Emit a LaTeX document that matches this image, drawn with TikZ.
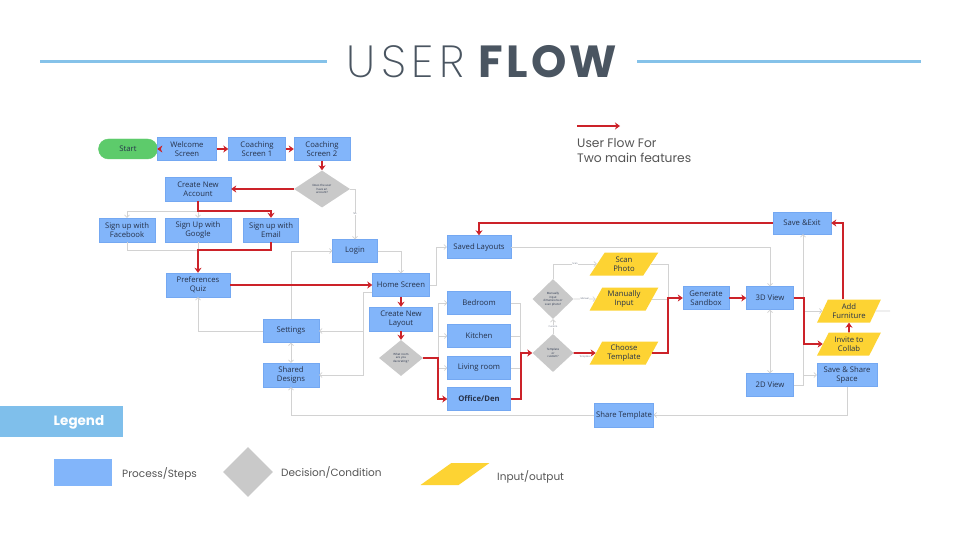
\documentclass[tikz,border=0pt]{standalone}
\usepackage{fontspec}
\setmainfont{Open Sans}
\newfontfamily\pop{Poppins}
\IfFontExistsTF{Poppins ExtraLight}{\newfontfamily\poplight{Poppins ExtraLight}[LetterSpace=12]}{%
 \IfFontExistsTF{Poppins Light}{\newfontfamily\poplight{Poppins Light}[LetterSpace=12]}{\newfontfamily\poplight{Poppins}[LetterSpace=12]}}
\newfontfamily\popbold{Poppins}[LetterSpace=7]
\usetikzlibrary{shapes.geometric,arrows.meta}
\definecolor{boxblue}{HTML}{82B5FA}
\definecolor{boxedge}{HTML}{74A8F2}
\definecolor{ink}{HTML}{26324A}
\definecolor{flowred}{HTML}{CC2229}
\definecolor{linegray}{HTML}{D2D2D2}
\definecolor{decgray}{HTML}{C9C9C9}
\definecolor{ioyellow}{HTML}{FDD333}
\definecolor{startgreen}{HTML}{5DCB6B}
\definecolor{titleblue}{HTML}{85C2E9}
\definecolor{titleink}{HTML}{4A5561}
\definecolor{legendblue}{HTML}{7FBFEB}
\definecolor{captionink}{HTML}{555555}
\begin{document}
\begin{tikzpicture}[x=1pt,y=-1pt,
 proc/.style={rectangle,fill=boxblue,draw=boxedge,line width=0.4pt,inner sep=0pt,minimum height=23pt,align=center,text=ink,font=\fontsize{7.7}{8.9}\selectfont},
 dec/.style={diamond,fill=decgray,inner sep=0pt,align=center,text=ink,font=\fontsize{2.9}{3.5}\selectfont},
 io/.style={trapezium,trapezium left angle=60,trapezium right angle=120,trapezium stretches=true,fill=ioyellow,inner sep=0pt,minimum height=23pt,minimum width=69pt,align=center,text=ink,font=\fontsize{7.7}{8.9}\selectfont},
 redarrow/.style={draw=flowred,line width=1.8pt,-{Stealth[length=5pt,width=7pt,inset=1.5pt]}},
 grayarrow/.style={draw=linegray,line width=0.7pt,-{Straight Barb[length=2.5pt,width=5pt]}},
 grayboth/.style={draw=linegray,line width=0.7pt,{Straight Barb[length=2.5pt,width=5pt]}-{Straight Barb[length=2.5pt,width=5pt]}},
 grayline/.style={draw=linegray,line width=0.7pt},
 tinylabel/.style={font=\fontsize{2.4}{3}\selectfont,text=ink!70,fill=white,inner sep=0.3pt},
 legendtext/.style={font=\pop\fontsize{10.5}{12}\selectfont,text=captionink,anchor=west,inner sep=0pt},
]
\useasboundingbox (0,0) rectangle (960,540);
\fill[white] (0,0) rectangle (960,540);

% Title
\draw[titleblue,line width=3pt] (40,62) coordinate (tl1) -- (327,62) coordinate (tl2);
\draw[titleblue,line width=3pt] (637,62) coordinate (tr1) -- (921,62) coordinate (tr2);
\node[text=titleink,inner sep=0pt] (title) at (482,62) {\fontsize{45}{45}\selectfont{\poplight USER}\hspace{3pt} {\popbold\bfseries FLOW}};

% Caption
\coordinate (capa) at (577,126);
\coordinate (capb) at (620,126);
\draw[redarrow,line width=1.6pt] (capa) -- (capb);
\node[anchor=north west,align=left,font=\pop\fontsize{12.3}{15}\selectfont,text=captionink,inner sep=0pt] (caption) at (577,138) {User Flow For\\Two main features};

% Nodes
\node[proc,rounded corners=10pt,fill=startgreen,draw=startgreen,minimum width=59pt,minimum height=20pt] (start) at (128,149) {Start};
\node[proc,minimum width=59pt] (welcome) at (187,149) {Welcome\\Screen};
\node[proc,minimum width=57pt] (coach1) at (257,149) {Coaching\\Screen 1};
\node[proc,minimum width=56pt] (coach2) at (322,149) {Coaching\\Screen 2};
\node[dec,minimum width=56pt,minimum height=37pt] (account) at (322,189) {Does the user\\have an\\account?};
\node[proc,minimum width=66pt,minimum height=24pt] (newacc) at (198,189) {Create New\\Account};
\node[proc,minimum width=56pt,minimum height=24pt] (fb) at (127,230) {Sign up with\\Facebook};
\node[proc,minimum width=66pt,minimum height=24pt] (google) at (198,230) {Sign Up with\\Google};
\node[proc,minimum width=55pt,minimum height=24pt] (email) at (271,230) {Sign up with\\Email};
\node[proc,minimum width=45pt] (login) at (355,251) {Login};
\node[proc,minimum width=64pt,minimum height=24pt] (quiz) at (198,285) {Preferences\\Quiz};
\node[proc,minimum width=57pt] (home) at (401,285) {Home Screen};
\node[proc,minimum width=63pt,minimum height=24pt] (newlayout) at (401,319) {Create New\\Layout};
\node[dec,minimum width=44pt,minimum height=36pt] (room) at (401,358) {What room\\are you\\decorating?};
\node[proc,minimum width=56pt] (settings) at (291,331) {Settings};
\node[proc,minimum width=56pt,minimum height=24pt] (shared) at (291,375) {Shared\\Designs};
\node[proc,minimum width=64pt] (saved) at (479,247) {Saved Layouts};
\node[proc,minimum width=63pt] (bed) at (479,303) {Bedroom};
\node[proc,minimum width=63pt] (kitchen) at (479,336) {Kitchen};
\node[proc,minimum width=63pt] (living) at (479,368) {Living room};
\node[proc,minimum width=63pt] (office) at (479,399) {\bfseries Office/Den};
\node[dec,minimum width=41pt,minimum height=38pt] (tmpl) at (553,353) {Template\\or\\custom?};
\node[dec,minimum width=41pt,minimum height=40pt] (manual) at (553,299) {Manually\\input\\dimensions or\\scan photo?};
\node[io] (scan) at (624,264) {Scan\\Photo};
\node[io] (minput) at (624,299) {Manually\\Input};
\node[io] (choose) at (624,353) {Choose\\Template};
\node[proc,minimum width=46pt] (sandbox) at (706,298) {Generate\\Sandbox};
\node[proc,minimum width=47pt] (v3d) at (770,298) {3D View};
\node[proc,minimum width=47pt] (v2d) at (770,385) {2D View};
\node[proc,minimum width=58pt,minimum height=22pt] (saveexit) at (802,223) {Save \&Exit};
\node[io,minimum width=64pt] (furn) at (849,311) {Add\\Furniture};
\node[io,minimum width=64pt] (invite) at (849,344) {Invite to\\Collab};
\node[proc,minimum width=60pt] (saveshare) at (847,375) {Save \& Share\\Space};
\node[proc,minimum width=59pt,minimum height=24pt] (sharetmpl) at (624,415) {Share Template};

\coordinate (jx) at (668,0);
\coordinate (kx) at (803,0);
\coordinate (stub) at (890,311);

% Gray connectors
\draw[grayarrow] (account.east) -| (login.north) node[pos=0.75,tinylabel]{No};
\draw[grayarrow] (newacc.south) -- ++(0,10) -| (fb.north);
\draw[grayarrow] (newacc.south) -- (google.north);
\draw[grayline] (fb.south) -- ++(0,8) -| (google.south);
\draw[grayarrow] (settings.north) |- (login.west);
\draw[grayarrow] (settings.west) -| (quiz.south);
\draw[grayboth] (settings) -- (shared);
\draw[grayarrow] ([yshift=-7pt]home.west) -- ++(-9,0) |- (settings.east);
\draw[grayarrow] ([yshift=-7pt]home.west) -- ++(-9,0) |- (shared.east);
\draw[grayarrow] (login.east) -| (home.north);
\draw[grayarrow] (home.east) -- ++(7,0) |- (saved.west);
\draw[grayarrow] (room.east) -- ++(15,0) |- (bed.west);
\draw[grayarrow] (room.east) -- ++(15,0) |- (kitchen.west);
\draw[grayarrow] (room.east) -- ++(15,0) |- (living.west);
\draw[grayline] (bed.east) -- ++(10,0) |- (kitchen.east);
\draw[grayline] (kitchen.east) -- ++(10,0) |- (living.east);
\draw[grayarrow] (tmpl.north) -- (manual.south) node[midway,tinylabel]{Custom};
\draw[grayarrow] (manual.north) |- (scan.west) node[pos=0.75,tinylabel]{Scan};
\draw[grayarrow] (manual.east) -- (minput.west) node[midway,tinylabel]{Manual};
\draw[grayline] (scan.east) -- (scan.east -| jx) |- (minput.east);
\draw[grayarrow] (saved.east) -| (v3d.north);
\draw[grayboth] (v3d) -- (v2d);
\draw[grayarrow] (v2d.east) -- (v2d.east -| kx) |- (saveshare.west);
\draw[grayarrow] (v2d.east -| kx) -- (saveexit.south -| kx);
\draw[grayarrow] (kx |- furn.west) -- (furn.west);
\draw[grayline] (furn.east) -- (stub);
\draw[grayarrow] (saveshare.south) |- (sharetmpl.east);
\draw[grayarrow] (sharetmpl.west) -| (shared.south);

% Red connectors
\draw[redarrow] (start) -- (welcome);
\draw[redarrow] (welcome) -- (coach1);
\draw[redarrow] (coach1) -- (coach2);
\draw[redarrow] (coach2) -- (account);
\draw[redarrow] (account.west) -- (newacc.east);
\draw[redarrow] (newacc.south) -- ++(0,10) -| (email.north);
\draw[redarrow] (email.south) -- ++(0,8) -| (quiz.north);
\draw[redarrow] (quiz) -- (home);
\draw[redarrow] (home) -- (newlayout);
\draw[redarrow] (newlayout) -- (room);
\draw[redarrow] (room.east) -- ++(15,0) |- (office.west);
\draw[redarrow] (office.east) -- ++(10,0) |- (tmpl.west);
\draw[redarrow] (tmpl) -- (choose) node[midway,below=1pt,tinylabel,fill=none]{Template};
\draw[redarrow] (choose.east) -- (choose.east -| jx) |- (sandbox.west);
\draw[redarrow] (sandbox) -- (v3d);
\draw[redarrow] (v3d.east) -- ++(10,0) |- (invite.west);
\draw[redarrow] (invite) -- (furn);
\draw[redarrow] ([xshift=-6pt]furn.north) |- (saveexit.east);
\draw[redarrow] (saveexit.west) -| (saved.north);

% Legend
\fill[legendblue] (0,406) rectangle (123,437);
\node[font=\pop\bfseries\fontsize{13.5}{15}\selectfont,text=white,inner sep=0pt] (legendtitle) at (79,422) {Legend};
\node[rectangle,fill=boxblue,inner sep=1pt,minimum width=58pt,minimum height=27pt] (lproc) at (83,472) {};
\node[legendtext] (lproct) at (122,474) {Process/Steps};
\node[diamond,fill=decgray,inner sep=1pt,minimum width=50pt,minimum height=50pt] (ldec) at (248,472) {};
\node[legendtext] (ldect) at (281,472) {Decision/Condition};
\node[io,inner sep=1pt,trapezium left angle=52,trapezium right angle=128,minimum width=69pt,minimum height=22pt] (lio) at (455,474) {\strut};
\node[legendtext] (liot) at (497,477) {Input/output};
\end{tikzpicture}
\end{document}
